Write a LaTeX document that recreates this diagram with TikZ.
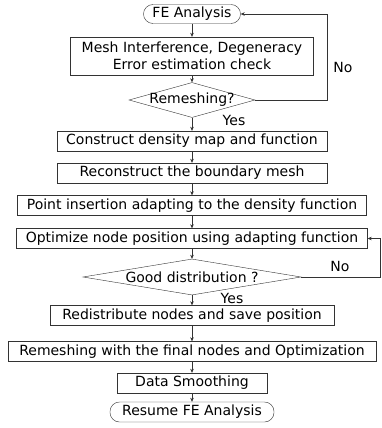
\documentclass[tikz,border=0pt]{standalone}
\usepackage{fontspec}
\setmainfont{DejaVu Sans}
\usetikzlibrary{shapes.geometric,arrows.meta}

\tikzset{
  box/.style={draw=black!80, thin, minimum height=20pt, inner xsep=9pt, inner ysep=2pt},
  term/.style={box, rounded corners=9.5pt},
  decide/.style={draw=black!80, thin, diamond, inner sep=0pt},
  arr/.style={-{Stealth[length=4pt,width=3.5pt]}, black!80, thin}
}

\begin{document}
\begin{tikzpicture}[x=1pt, y=-1pt, font=\fontsize{14}{17}\selectfont]
\useasboundingbox (0,0) rectangle (382,428);
\node[term, minimum width=94pt, minimum height=19pt] (fe) at (192,14) {FE Analysis};
\node[box, minimum width=243pt, minimum height=38pt, align=center] (check) at (192,56) {Mesh Interference, Degeneracy\\Error estimation check};
\node[decide, minimum width=126pt, minimum height=35pt, label=center:Remeshing?] (remesh) at (192,100) {};
\node (yes1) at (234,120) {Yes};
\node (no1) at (343,67) {No};
\node[box, minimum width=270pt] (density) at (192,141) {Construct density map and function};
\node[box, minimum width=270pt] (boundary) at (192,173) {Reconstruct the boundary mesh};
\node[box, minimum width=349pt] (insert) at (192,205.5) {Point insertion adapting to the density function};
\node[box, minimum width=351pt] (optim) at (192,238.5) {Optimize node position using adapting function};
\node[decide, minimum width=218pt, minimum height=36pt, label=center:Good distribution ?] (good) at (192,277) {};
\node (yes2) at (232,298) {Yes};
\node (no2) at (340,266) {No};
\node[box, minimum width=284pt] (redist) at (192,315.5) {Redistribute nodes and save position};
\node[box, minimum width=368pt] (final) at (192,351.5) {Remeshing with the final nodes and Optimization};
\node[box, minimum width=150pt] (smooth) at (192,383) {Data Smoothing};
\node[term, minimum width=164pt] (resume) at (192,412) {Resume FE Analysis};

% main flow
\draw[arr] (fe) -- (check);
\draw[arr] (check) -- (remesh);
\draw[arr] (remesh) -- (density);
\draw[arr] (density) -- (boundary);
\draw[arr] (boundary) -- (insert);
\draw[arr] (insert) -- (optim);
\draw[arr] (optim) -- (good);
\draw[arr] (good) -- (redist);
\draw[arr] (redist) -- (final);
\draw[arr] (final) -- (smooth);
\draw[arr] (smooth) -- (resume);

% loops back
\draw[arr] (remesh.east) -- ++(72,0) |- (fe.east);
\draw[arr] (good.east) -- ++(79,0) |- (optim.east);
\end{tikzpicture}
\end{document}
